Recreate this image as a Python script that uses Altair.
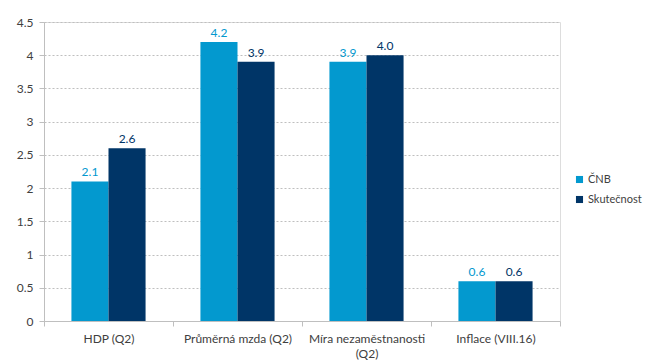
import altair as alt
import pandas as pd

categories = ["HDP (Q2)", "Průměrná mzda (Q2)", "Míra nezaměstnanosti (Q2)", "Inflace (VIII.16)"]
cnb = [2.1, 4.2, 3.9, 0.6]
actual = [2.6, 3.9, 4.0, 0.6]
series = ["ČNB", "Skutečnost"]
colors = ["#0399CF", "#003567"]
y_ticks = [0, 0.5, 1, 1.5, 2, 2.5, 3, 3.5, 4, 4.5]

rows = []
for cat, a, b in zip(categories, cnb, actual):
    rows.append({"kat": cat, "serie": series[0], "hodnota": a})
    rows.append({"kat": cat, "serie": series[1], "hodnota": b})
df = pd.DataFrame(rows)

font = "Lato"
text_color = "#404040"
color_scale = alt.Scale(domain=series, range=colors)

x = alt.X(
    "kat:N", sort=categories, title=None,
    scale=alt.Scale(paddingInner=0, paddingOuter=0),
    axis=alt.Axis(
        labelAngle=0, tickBand="extent", tickSize=5, domainColor="#bfbfbf",
        tickColor="#bfbfbf", labelColor=text_color, labelFont=font, labelFontSize=12,
        labelPadding=7, labelLimit=200, labelLineHeight=15,
        labelExpr="datum.label == 'Míra nezaměstnanosti (Q2)' ? ['Míra nezaměstnanosti', '(Q2)'] : datum.label",
    ),
)
xoff = alt.XOffset("serie:N", sort=series, scale=alt.Scale(paddingInner=0, paddingOuter=0.74))

y = alt.Y(
    "hodnota:Q", title=None,
    scale=alt.Scale(domain=[0, 4.5], nice=False),
    axis=alt.Axis(
        values=y_ticks, tickSize=5, labelOverlap=False,
        labelExpr="format(datum.value, '~g')",
        domainColor="#bfbfbf", tickColor="#bfbfbf", gridColor="#bfbfbf",
        gridDash=[2, 2], labelColor=text_color, labelFont=font, labelFontSize=12,
        labelPadding=6,
    ),
)

bars = alt.Chart(df).mark_bar().encode(
    x=x,
    xOffset=xoff,
    y=y,
    color=alt.Color(
        "serie:N", scale=color_scale, sort=series, title=None,
        legend=alt.Legend(
            orient="none", legendX=530, legendY=152, symbolType="square",
            symbolSize=50, labelFont=font, labelFontSize=11, labelColor=text_color,
            rowPadding=8, symbolStrokeWidth=0, labelOffset=3,
        ),
    ),
)

labels = alt.Chart(df).mark_text(dy=-9, font=font, fontSize=12).encode(
    x=x,
    xOffset=xoff,
    y=y,
    text=alt.Text("hodnota:Q", format=".1f"),
    color=alt.Color("serie:N", scale=color_scale, sort=series, legend=None),
)

chart = (
    alt.layer(bars, labels)
    .properties(
        width=516, height=299,
        autosize=alt.AutoSizeParams(type="none"),
        padding={"left": 44, "top": 22, "right": 85, "bottom": 40},
        title=alt.TitleParams(
            "(meziročně, v %)", anchor="start", dx=-40, offset=18,
            fontSize=12, font=font, fontWeight="normal", color=text_color,
        ),
    )
    .configure_view(stroke=None)
    .configure(background="white")
)

chart.save("out.html", embed_options={"renderer": "svg", "actions": False})
